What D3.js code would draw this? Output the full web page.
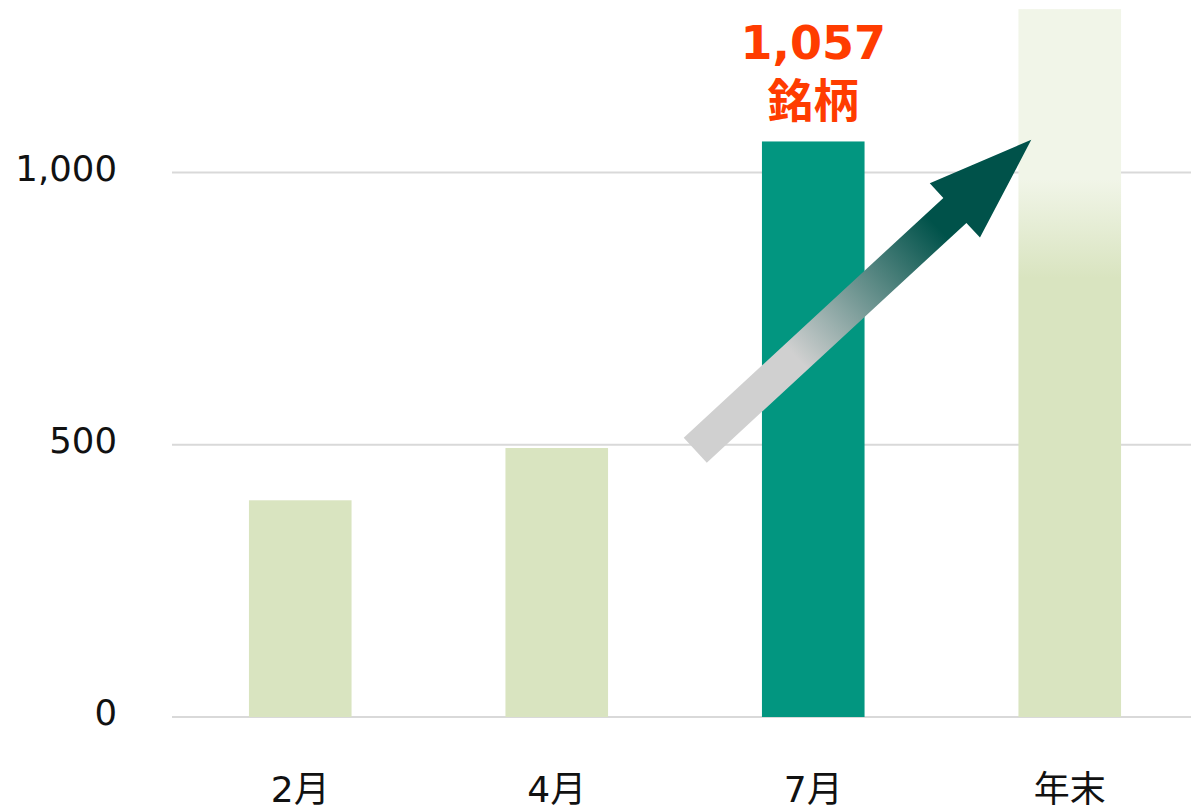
<!DOCTYPE html>
<html>
<head>
<meta charset="utf-8">
<script src="https://cdn.jsdelivr.net/npm/d3@7"></script>
<style>
  body { margin: 0; background: #fff; }
  svg { display: block; }
</style>
</head>
<body>
<div class="chart"></div>
<script>
// data
const categories = ['2月', '4月', '7月', '年末'];
const values = [398, 494, 1057, 1300];
const yTicks = [0, 500, 1000];
const labelValue = '1,057';
const labelUnit = '銘柄';
const highlightCat = '7月';
const fadedCat = '年末';
// arrow: [category, offset in steps from band centre, value]
const arrowFrom = ['7月', -0.46, 490];
const arrowTo = ['年末', -0.15, 1060];

const width = 1191, height = 810;
const svg = d3.select('.chart').append('svg')
  .attr('width', width).attr('height', height);

const x = d3.scaleBand()
  .domain(categories)
  .range([172, 1198])
  .paddingInner(0.6)
  .paddingOuter(0.3);

const y = d3.scaleLinear()
  .domain([0, 1000])
  .range([717, 172.5]);

const defs = svg.append('defs');
const fade = defs.append('linearGradient')
  .attr('id', 'fade').attr('x1', 0).attr('y1', 0).attr('x2', 0).attr('y2', 1);
fade.append('stop').attr('offset', 0).attr('stop-color', '#f1f5e8');
fade.append('stop').attr('offset', 0.24).attr('stop-color', '#f1f5e8');
fade.append('stop').attr('offset', 0.38).attr('stop-color', '#d9e4c0');
fade.append('stop').attr('offset', 1).attr('stop-color', '#d9e4c0');

const arrowGrad = defs.append('linearGradient')
  .attr('id', 'arrowGrad').attr('x1', 0).attr('y1', 0).attr('x2', 1).attr('y2', 0);
arrowGrad.append('stop').attr('offset', 0).attr('stop-color', '#d0d0d0');
arrowGrad.append('stop').attr('offset', 0.3).attr('stop-color', '#d0d0d0');
arrowGrad.append('stop').attr('offset', 0.72).attr('stop-color', '#00524a');
arrowGrad.append('stop').attr('offset', 1).attr('stop-color', '#00524a');

// gridlines + y labels
const yAxis = svg.append('g')
  .call(d3.axisLeft(y).tickValues(yTicks).tickFormat(d3.format(',')).tickSize(0))
  .attr('transform', 'translate(172,0)');
yAxis.select('.domain').remove();
yAxis.selectAll('text')
  .attr('x', -55).attr('dy', '0.22em')
  .attr('font-family', '"DejaVu Sans", Verdana, sans-serif')
  .attr('font-size', 35.5).attr('fill', '#111');

svg.append('g').selectAll('line').data(yTicks)
  .join('line')
  .attr('x1', 172).attr('x2', width)
  .attr('y1', d => y(d)).attr('y2', d => y(d))
  .attr('stroke', '#d9d9d9').attr('stroke-width', 2);

// bars
svg.append('g').selectAll('rect').data(categories)
  .join('rect')
  .attr('x', d => x(d))
  .attr('width', x.bandwidth())
  .attr('y', (d, i) => y(values[i]))
  .attr('height', (d, i) => y(0) - y(values[i]))
  .attr('fill', d => d === highlightCat ? '#029680' : d === fadedCat ? 'url(#fade)' : '#d9e4c0');

// x labels
svg.append('g').selectAll('text').data(categories)
  .join('text')
  .attr('x', d => x(d) + x.bandwidth() / 2)
  .attr('y', 802)
  .attr('text-anchor', 'middle')
  .attr('font-family', '"DejaVu Sans", "Noto Sans CJK JP", sans-serif')
  .attr('font-size', 36).attr('fill', '#111')
  .text(d => d);

// value callout, one text block with two lines
const hi = values[categories.indexOf(highlightCat)];
const cx = x(highlightCat) + x.bandwidth() / 2;
const callout = svg.append('text')
  .attr('text-anchor', 'middle')
  .attr('font-weight', 'bold')
  .attr('font-size', 46).attr('fill', '#ff3c00');
callout.append('tspan')
  .attr('x', cx).attr('y', y(hi) - 82)
  .attr('font-family', '"DejaVu Sans", sans-serif')
  .text(labelValue);
callout.append('tspan')
  .attr('x', cx).attr('y', y(hi) - 24)
  .attr('font-family', '"Noto Sans CJK JP", sans-serif')
  .text(labelUnit);

// arrow
const px = a => x(a[0]) + x.bandwidth() / 2 + a[1] * x.step();
const x0 = px(arrowFrom), y0 = y(arrowFrom[2]);
const x1 = px(arrowTo), y1 = y(arrowTo[2]);
const len = Math.hypot(x1 - x0, y1 - y0);
const ang = Math.atan2(y1 - y0, x1 - x0) * 180 / Math.PI;
const shaft = 17, head = 37, headLen = 104;
const pts = [
  [0, -shaft], [len - headLen, -shaft], [len - headLen, -head], [len, 0],
  [len - headLen, head], [len - headLen, shaft], [0, shaft]
];
svg.append('polygon')
  .attr('points', pts.map(p => p.join(',')).join(' '))
  .attr('transform', `translate(${x0},${y0}) rotate(${ang})`)
  .attr('fill', 'url(#arrowGrad)');
</script>
</body>
</html>
